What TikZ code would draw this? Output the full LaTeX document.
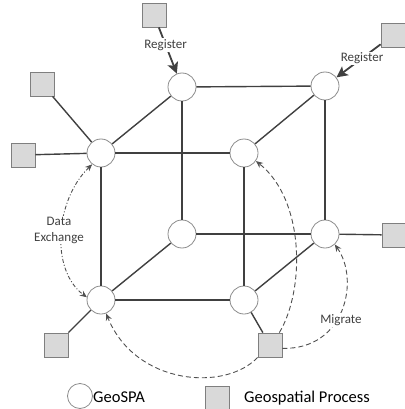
\documentclass[tikz,border=0pt]{standalone}
\usepackage{fontspec}
\setmainfont{Carlito}
\usetikzlibrary{arrows.meta}
\definecolor{edgec}{HTML}{404040}
\definecolor{circc}{HTML}{8C8C8C}
\definecolor{sqfill}{HTML}{D9D9D9}
\definecolor{sqdraw}{HTML}{7F7F7F}
\definecolor{dashc}{HTML}{505050}
\definecolor{txtc}{HTML}{404040}
\begin{document}
\begin{tikzpicture}[x=1pt,y=-1pt,
  geo/.style={circle,draw=circc,fill=white,line width=0.8pt,minimum size=28pt,inner sep=0pt},
  proc/.style={rectangle,draw=sqdraw,fill=sqfill,line width=0.8pt,minimum size=24pt,inner sep=0pt},
  cedge/.style={draw=edgec,line width=1.4pt},
  reg/.style={draw=edgec,line width=1.8pt,-{Stealth[length=11pt,width=11pt,inset=2.5pt]}},
  dashedarrow/.style={draw=dashc,line width=0.9pt,dash pattern=on 5pt off 3pt,-{Stealth[length=7pt,width=6pt]}},
  lbl/.style={font=\fontsize{13}{16}\selectfont,text=txtc,fill=white,inner sep=1pt,align=center},
  leg/.style={font=\fontsize{16.5}{19}\selectfont,text=black,inner sep=0pt,anchor=west}]
\useasboundingbox (0,0) rectangle (404,409);
% cube nodes
\node[geo] (FTL) at (101,153) {};
\node[geo] (FTR) at (244,153) {};
\node[geo] (FBL) at (101,300) {};
\node[geo] (FBR) at (244,300) {};
\node[geo] (BTL) at (182,87) {};
\node[geo] (BTR) at (325,86) {};
\node[geo] (BBL) at (182,234) {};
\node[geo] (BBR) at (325,234) {};
% process squares
\node[proc] (PT) at (154,15) {};
\node[proc] (PTR) at (393,35) {};
\node[proc] (PL1) at (42,84) {};
\node[proc] (PL2) at (23,155) {};
\node[proc] (PR) at (394,235) {};
\node[proc] (PBL) at (56,345) {};
\node[proc] (PM) at (270,345) {};
% cube edges
\draw[cedge] (FTL) -- (FTR);
\draw[cedge] (FTR) -- (FBR);
\draw[cedge] (FBR) -- (FBL);
\draw[cedge] (FBL) -- (FTL);
\draw[cedge] (BTL) -- (BTR);
\draw[cedge] (BTR) -- (BBR);
\draw[cedge] (BBR) -- (BBL);
\draw[cedge] (BBL) -- (BTL);
\draw[cedge] (FTL) -- (BTL);
\draw[cedge] (FTR) -- (BTR);
\draw[cedge] (FBL) -- (BBL);
\draw[cedge] (FBR) -- (BBR);
% square connectors
\draw[cedge] (PL1) -- (FTL);
\draw[cedge] (PL2) -- (FTL);
\draw[cedge] (PR) -- (BBR);
\draw[cedge] (PBL) -- (FBL);
\draw[cedge] (PM) -- (FBR);
% register arrows
\draw[reg] (PT) -- node[lbl,pos=0.38] {Register} (BTL);
\draw[reg] (PTR) -- node[lbl,pos=0.42] {Register} (BTR);
% dashed arrows
\draw[dashedarrow,dash pattern=on 4pt off 2pt on 1pt off 2pt,{Stealth[length=7pt,width=6pt]}-{Stealth[length=7pt,width=6pt]}]
  (FTL.232) .. controls (55,200) and (50,270) .. (FBL.169);
\node[lbl] (DX) at (59,230) {Data\\Exchange};
\draw[dashedarrow] (PM.53) .. controls (305,290) and (305,200) .. (FTR.326);
\draw[dashedarrow] (PM.south west) .. controls (225,392) and (135,385) .. (FBL.291);
\draw[dashedarrow] (PM.-15) .. controls (345,350) and (360,280) .. (BBR.313);
\node[lbl] (MG) at (341,320) {Migrate};
% legend
\node[geo,minimum size=25pt] (LC) at (80,396) {};
\node[leg] (LCT) at (93,397) {GeoSPA};
\node[proc] (LS) at (217,398) {};
\node[leg] (LST) at (244,398) {Geospatial Process};
\end{tikzpicture}
\end{document}
